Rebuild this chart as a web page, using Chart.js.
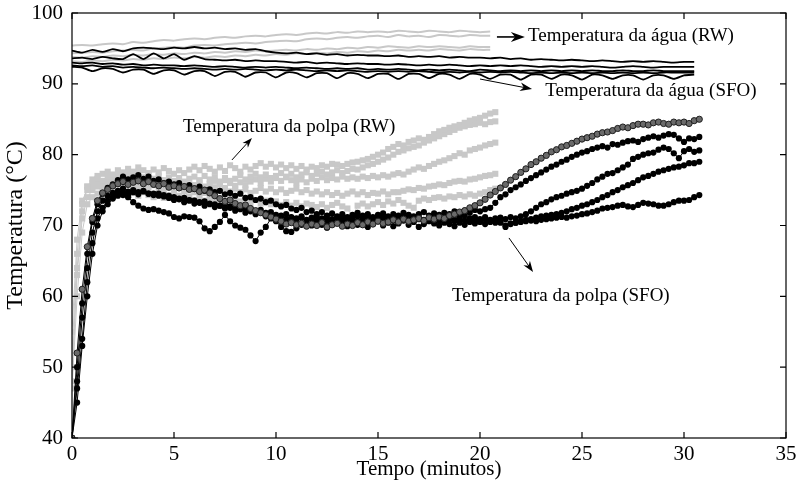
<!DOCTYPE html>
<html><head><meta charset="utf-8">
<script src="https://cdn.jsdelivr.net/npm/chart.js@4.4.1/dist/chart.umd.min.js"></script>
<style>html,body{margin:0;padding:0;background:#fff}#wrap{width:798px;height:488px}</style>
</head><body><div id="wrap"><canvas id="c" width="798" height="488"></canvas></div>
<script>
// ---- axis ticks ----
const xTickValues = [0, 5, 10, 15, 20, 25, 30, 35];
const yTickValues = [40, 50, 60, 70, 80, 90, 100];
const xTitle = 'Tempo (minutos)';
const yTitle = 'Temperatura (°C)';
const noteTexts = ['Temperatura da água (RW)', 'Temperatura da água (SFO)', 'Temperatura da polpa (RW)', 'Temperatura da polpa (SFO)'];

// sampling interval (minutes)
const STEP_PULP = 0.25;
const STEP_WATER = 0.5;

// ---- pulp temperature, SFO (black circles), t = 0 .. 30.75 ----
const pulpSFO1 = [40,52,61,67, 71,73.5,74.6,75.1, 75.6,75.9,76.2,75.8, 76.1,76.3,75.9,76.2, 75.8,75.6,75.9,75.4, 75.6,75.3,75.5,75.1, 75.2,74.8,75.0,74.6, 74.2,73.8,73.4,73.6, 73.1,72.8,72.9,72.4, 72.1,71.8,71.5,71.2, 70.9,70.6,70.2,70.4, 70.1,70.3,69.9,70.2, 70.0,70.4,69.8,70.1, 70.3,69.9,70.2,70.0, 70.4,70.1,70.5,70.2, 70.6,70.3,70.5,70.8, 70.5,70.9,70.6,70.8, 71.0,70.7,71.1,70.9, 71.2,71.0,71.4,71.6, 71.9,72.1,72.5,72.8, 73.2,73.7,74.3,74.8, 75.3,75.8,76.4,76.9, 77.5,78.0,78.6,79.0, 79.5,79.9,80.4,80.7, 81.1,81.3,81.6,81.9, 82.2,82.4,82.6,82.9, 83.1,83.2,83.4,83.7, 83.9,83.8,84.1,84.3, 84.3,84.2,84.5,84.6, 84.4,84.3,84.6,84.5, 84.6,84.4,84.8,85.0];
const pulpSFO2 = [40,50,59,66, 70.5,73,74.5,75.3, 75.8,76.4,76.9,76.5, 76.8,77.1,76.6,76.9, 76.3,76.5,76.0,76.2, 75.8,76.0,75.5,75.7, 75.2,75.5,74.9,75.1, 74.7,74.9,74.4,74.6, 74.2,74.5,73.9,74.0, 73.6,73.8,73.3,73.5, 73.0,72.7,72.9,72.4, 72.2,72.5,71.9,72.1, 71.6,71.9,71.4,71.7, 71.3,71.6,71.2,71.5, 71.8,71.4,71.6,71.2, 71.5,71.7,71.3,71.6, 71.4,71.8,71.5,71.3, 71.6,71.9,71.4,71.7, 71.5,71.8,71.6,72.0, 71.7,72.1,71.8,72.2, 72.0,72.3,72.5,73.2, 74.0,74.4,75.0,75.4, 75.8,76.3,76.7,77.1, 77.5,77.9,78.3,78.6, 79.0,79.3,79.7,80.0, 80.3,80.5,80.8,81.0, 81.2,81.0,81.5,81.4, 81.7,81.9,82.0,81.8, 82.2,82.4,82.6,82.4, 82.7,82.9,82.8,82.3, 81.8,82.3,82.2,82.5];
const pulpSFO3 = [40,48,57,64, 69,72,73.5,74.2, 74.6,74.9,75.2,74.8, 75.0,74.7,74.9,74.5, 74.5,74.2,74.3,73.9, 73.6,73.8,73.3,73.5, 73.1,73.3,72.8,73.0, 72.6,72.8,72.4,72.5, 72.1,72.3,71.8,72.0, 71.6,71.8,71.3,71.5, 71.1,71.4,70.9,71.2, 70.8,71.1,70.7,71.0, 71.2,70.8,71.0,70.6, 70.9,71.2,70.7,71.0, 71.3,70.9,71.1,70.7, 71.0,71.3,70.8,71.1, 70.9,71.2,71.4,71.0, 71.2,70.8,71.1,70.9, 71.3,71.0,71.2,70.8, 71.1,71.4,71.0,71.2, 70.9,71.2,70.8,71.0, 71.1,70.9,71.2,71.0, 71.3,71.6,72.0,72.5, 73.0,73.3,73.7,74.0, 74.2,74.5,74.7,74.9, 75.2,75.6,76.0,76.5, 76.9,77.3,77.4,77.8, 78.2,78.6,79.4,79.7, 80.0,80.2,80.3,80.7, 81.0,80.8,80.2,79.5, 80.5,80.8,80.4,80.6];
const pulpSFO4 = [40,47,54,62, 67.5,71,72.5,73.5, 74.0,74.5,74.3,74.0, 73.3,72.8,72.4,72.2, 72.3,72.1,71.9,71.7, 71.2,71.0,71.3,71.2, 71.1,70.6,69.6,69.2, 69.8,70.5,71.5,70.6, 70.0,69.7,69.4,68.6, 67.8,69.0,69.8,71.0, 70.6,69.8,69.2,69.1, 69.6,70.1,70.4,70.0, 70.5,70.1,69.7,70.3, 70.6,70.2,69.9,70.4, 70.1,70.5,69.8,70.3, 70.6,70.0,70.4,69.9, 70.3,70.7,70.1,70.5, 69.8,70.2,70.6,70.3, 70.0,70.5,70.2,69.9, 70.4,70.1,70.6,70.3, 70.5,70.2,70.6,70.4, 70.5,69.8,70.2,70.4, 70.6,70.8,70.9,71.1, 71.3,71.4,71.5,71.6, 71.8,72.0,72.3,72.5, 72.8,73.0,73.3,73.6, 74.0,74.3,74.7,75.0, 75.4,75.7,76.0,76.4, 76.8,77.0,77.3,77.6, 77.8,78.0,78.2,78.3, 78.5,78.8,78.8,79.0];
const pulpSFO5 = [40,45,53,60, 66,70,72,73, 73.8,74.2,74.6,74.3, 74.7,74.4,74.8,74.5, 74.3,74.5,74.1,74.2, 74.0,73.7,73.9,73.6, 73.5,73.2,73.4,73.1, 73.0,72.8,73.1,72.7, 72.5,72.7,72.3,72.4, 72.0,72.2,71.8,71.9, 71.5,71.3,71.6,71.1, 71.0,71.3,70.8,71.1, 70.7,71.0,70.6,70.9, 71.2,70.8,70.5,70.9, 70.6,71.0,70.7,70.4, 70.8,71.1,70.6,70.9, 70.5,70.8,71.0,70.6, 70.9,70.5,70.8,71.1, 70.7,70.4,70.8,70.6, 71.0,70.7,70.5,70.9, 70.6,70.9,70.5,70.7, 70.4,70.0,70.3,70.4, 70.5,70.6,70.7,70.6, 70.8,70.9,71.0,71.1, 71.2,71.1,71.3,71.4, 71.6,71.7,71.9,72.1, 72.4,72.5,72.6,72.8, 72.9,72.7,72.6,72.9, 73.2,73.1,73.0,72.8, 72.8,73.0,73.3,73.5, 73.5,73.6,74.0,74.3];

// ---- pulp temperature, RW (grey squares), t = 0 .. 20.75 ----
const pulpRW1 = [48,64,72,75.5, 76.5,77.0,77.3,77.6, 77.2,77.8,77.5,78.0, 77.6,78.2,77.8,77.4, 77.9,77.5,78.1,77.7, 77.3,77.8,77.4,77.9, 78.3,77.8,78.4,78.0, 77.6,78.2,77.7,78.5, 78.1,77.6,78.3,77.9, 78.4,78.8,78.3,78.7, 78.2,78.6,78.1,78.5, 78.0,78.4,77.9,78.3, 78.1,78.5,78.3,78.7, 78.6,78.4,78.7,78.9, 79.0,79.2,79.4,79.7, 80.0,80.3,80.8,81.1, 81.5,81.3,81.8,82.0, 82.3,82.1,82.5,82.9, 83.3,83.5,83.8,84.0, 84.2,84.5,84.8,85.0, 85.2,85.5,85.8,86.0];
const pulpRW2 = [52,66,73,75.5, 76.0,76.6,76.3,76.9, 76.5,77.1,76.7,77.3, 76.9,77.4,76.8,77.2, 76.6,77.0,76.4,76.8, 76.3,76.7,76.2,76.6, 76.9,76.4,77.0,76.5, 76.8,76.2,76.7,76.3, 76.6,77.1,76.5,76.9, 77.3,76.8,77.2,76.7, 77.0,77.4,76.9,77.3, 76.8,77.2,77.5,77.0, 77.3,77.6,77.2,77.5, 77.8,77.4,77.7,78.0, 77.9,78.2,78.5,78.7, 79.0,79.3,79.6,80.0, 80.4,80.6,80.9,81.1, 81.3,81.7,82.0,82.3, 82.6,82.9,83.2,83.5, 83.8,84.0,84.2,84.3, 84.5,84.3,84.6,84.7];
const pulpRW3 = [55,68,73.5,75, 75.5,76.0,75.7,76.2, 75.8,76.4,76.0,76.5, 76.1,75.7,76.3,75.9, 76.4,75.8,76.2,75.6, 75.9,75.4,75.8,75.3, 75.7,76.1,75.5,75.9, 76.3,75.8,76.4,76.0, 75.6,76.1,75.7,76.2, 76.5,76.0,76.6,76.2, 76.7,76.3,76.8,76.4, 76.0,76.5,76.1,76.6, 76.3,76.8,76.4,76.7, 76.5,76.9,76.6,76.8, 76.6,76.9,76.7,77.0, 76.8,77.1,76.9,77.2, 77.4,77.2,77.6,77.9, 78.2,78.0,78.4,78.7, 79.0,79.2,79.5,79.8, 80.2,80.0,80.6,80.8, 81.0,81.3,81.5,81.7];
const pulpRW4 = [50,63,71,74, 75.0,75.5,75.2,75.7, 75.3,75.8,75.4,75.9, 75.5,75.1,75.6,75.2, 75.7,75.3,75.0,75.4, 74.9,75.3,74.8,75.2, 74.7,75.1,74.6,75.0, 75.4,74.9,75.3,74.8, 75.2,74.7,75.1,74.6, 74.9,75.3,74.8,75.2, 74.7,75.1,74.6,74.9, 75.2,74.7,75.0,74.5, 74.8,74.4,74.7,74.3, 74.6,74.2,74.5,74.8, 74.4,74.7,74.3,74.6, 74.5,74.8,74.4,74.7, 74.7,74.9,75.1,75.0, 75.3,75.2,75.5,75.6, 75.8,75.7,76.0,76.2, 76.3,76.2,76.5,76.6, 76.8,77.0,77.1,77.3];
const pulpRW5 = [47,60,69,73, 74.0,74.5,74.2,74.8, 74.4,74.9,74.5,74.1, 74.6,74.2,74.7,74.3, 74.0,74.4,73.9,74.3, 73.8,74.2,73.7,74.1, 73.6,74.0,73.5,73.9, 73.4,73.8,73.3,73.7, 73.9,73.4,73.8,73.2, 73.6,73.1,73.5,73.0, 73.4,72.9,73.3,72.8, 73.2,72.7,73.1,72.9, 72.6,73.0,72.5,72.9, 73.2,72.7,72.4,71.2, 72.8,73.1,72.7,73.0, 73.3,72.9,73.4,73.1, 73.6,73.2,72.8,72.5, 73.5,73.8,73.6,73.9, 74.0,73.8,74.1,74.0, 74.3,74.1,74.4,74.2, 74.5,74.7,75.0,75.2];

// ---- water temperature, SFO (black lines), t = 0 .. 30.5 ----
const waterSFO1 = [94.7,94.4,94.8,94.5,94.9,94.6,95.0,95.1,95.0,94.9, 95.1,95.0,95.2,95.0,95.1,94.9,95.0,94.8,94.9,94.6, 94.4,94.3,94.4,94.2,94.3,94.1,94.2,94.0,94.1,94.0, 94.0,93.9,94.0,93.8,93.9,93.8,93.9,93.7,93.8,93.7, 93.7,93.6,93.7,93.5,93.6,93.4,93.5,93.4,93.3,93.4, 93.3,93.2,93.3,93.2,93.1,93.2,93.1,93.2,93.1,93.0, 93.1,93.1];
const waterSFO2 = [93.6,93.7,93.5,93.8,93.6,93.5,94.2,93.5,94.3,93.6, 94.2,93.4,93.9,93.5,93.4,93.3,93.4,93.2,93.3,93.2, 93.2,93.1,93.0,93.1,92.9,93.0,92.9,92.8,92.9,92.8, 92.8,92.7,92.8,92.7,92.6,92.7,92.6,92.7,92.6,92.5, 92.6,92.5,92.6,92.5,92.6,92.5,92.4,92.5,92.4,92.5, 92.4,92.5,92.4,92.3,92.4,92.5,92.4,92.3,92.4,92.4, 92.4,92.4];
const waterSFO3 = [93.0,92.9,93.0,92.8,92.9,92.7,92.8,92.6,92.7,92.6, 92.6,92.5,92.6,92.5,92.4,92.5,92.4,92.3,92.4,92.3, 92.4,92.3,92.2,92.3,92.2,92.1,92.2,92.1,92.2,92.0, 92.1,92.0,92.1,92.0,91.9,92.0,91.9,92.0,91.9,91.8, 92.0,91.9,91.8,91.9,91.8,91.9,91.8,91.9,91.8,91.9, 91.8,91.9,91.8,91.8,91.9,91.8,91.8,91.9,91.8,91.8, 91.8,91.8];
const waterSFO4 = [92.6,92.5,92.6,92.4,92.5,92.3,92.4,92.3,92.2,92.3, 92.2,92.1,92.2,92.1,92.0,92.1,92.0,92.1,92.0,91.9, 92.0,91.9,92.0,91.9,91.8,91.9,91.8,91.9,91.8,91.7, 91.8,91.7,91.8,91.7,91.8,91.7,91.6,91.7,91.6,91.7, 91.6,91.7,91.6,91.7,91.6,91.5,91.6,91.5,91.6,91.5, 91.6,91.5,91.6,91.5,91.6,91.5,91.6,91.5,91.6,91.6, 91.6,91.6];
const waterSFO5 = [92.4,92.3,91.8,92.2,92.1,91.6,92.0,92.0,91.4,91.9, 91.9,91.3,91.8,91.8,91.1,91.7,91.7,91.0,91.6,91.6, 90.9,91.6,91.5,90.9,91.5,91.5,90.8,91.5,91.4,90.8, 91.4,91.4,90.7,91.4,91.4,90.8,91.4,91.3,90.7,91.4, 91.3,90.7,91.3,91.3,90.6,91.3,91.3,90.7,91.3,91.2, 90.6,91.3,91.2,90.7,91.2,91.2,90.6,91.2,91.2,90.7, 91.2,91.3];

// ---- water temperature, RW (grey lines), t = 0 .. 20.5 ----
const waterRW1 = [95.4,95.5,95.4,95.6,95.7,95.6,95.9,95.8,96.0,96.2, 96.1,96.3,96.4,96.3,96.5,96.6,96.5,96.7,96.8,96.7, 96.9,97.0,96.9,97.1,97.2,97.1,97.3,97.2,97.4,97.3, 97.4,97.3,97.5,97.4,97.3,97.5,97.4,97.3,97.5,97.4, 97.3,97.4];
const waterRW2 = [94.3,94.4,94.5,94.4,94.6,94.7,94.8,94.7,95.0,95.1, 95.2,95.1,95.4,95.5,95.4,95.6,95.7,95.8,95.7,95.9, 96.0,96.1,96.0,96.3,96.4,96.3,96.5,96.6,96.5,96.7, 96.8,96.6,96.9,96.7,96.8,96.6,96.9,96.8,96.7,96.9, 96.8,96.8];
const waterRW3 = [93.8,93.7,93.9,93.8,94.0,93.9,94.1,94.0,94.2,94.1, 94.3,94.2,94.4,94.3,94.5,94.4,94.6,94.5,94.7,94.6, 94.7,94.8,94.7,94.9,94.8,95.0,94.9,95.1,95.0,95.2, 95.1,95.3,95.2,95.1,95.3,95.2,95.3,95.2,95.1,95.3, 95.2,95.2];
const waterRW4 = [93.2,93.1,93.3,93.2,93.4,93.3,93.5,93.4,93.6,93.5, 93.7,93.6,93.8,93.7,93.9,93.8,94.0,93.9,94.1,94.0, 94.2,94.1,94.3,94.2,94.4,94.3,94.5,94.4,94.6,94.5, 94.7,94.6,94.8,94.7,94.8,94.7,94.9,94.8,94.7,94.9, 94.8,94.8];

// ---- build ----
const FONT = 'Liberation Serif, "Times New Roman", serif';
const BLACK = '#000000', GREY = '#c8c8c8';
function xy(vals, step) { return vals.map((v, i) => ({ x: i * step, y: v })); }

const datasets = [];
[pulpSFO1, pulpSFO2, pulpSFO3, pulpSFO4, pulpSFO5].forEach((s, k) => datasets.push({
  data: xy(s, STEP_PULP), borderColor: BLACK, borderWidth: 1,
  pointStyle: 'circle', pointRadius: 3.1,
  pointBackgroundColor: k === 0 ? '#6a6a6a' : BLACK,
  pointBorderColor: k === 0 ? '#1e1e1e' : BLACK, pointBorderWidth: k === 0 ? 1 : 0
}));
[pulpRW1, pulpRW2, pulpRW3, pulpRW4, pulpRW5].forEach(s => datasets.push({
  data: xy(s, STEP_PULP), borderColor: GREY, borderWidth: 1,
  pointStyle: 'rect', pointRadius: 4.3, pointBackgroundColor: GREY, pointBorderColor: GREY, pointBorderWidth: 0
}));
[waterSFO1, waterSFO2, waterSFO3, waterSFO4, waterSFO5].forEach(s => datasets.push({
  data: xy(s, STEP_WATER), borderColor: BLACK, borderWidth: 1.8, pointRadius: 0, tension: 0.2
}));
[waterRW1, waterRW2, waterRW3, waterRW4].forEach(s => datasets.push({
  data: xy(s, STEP_WATER), borderColor: GREY, borderWidth: 2, pointRadius: 0, tension: 0.3
}));

const framePlugin = {
  id: 'frame',
  afterDraw(chart) {
    const { ctx, chartArea: a, scales: { x, y } } = chart;
    ctx.save();
    ctx.strokeStyle = '#000'; ctx.lineWidth = 1.2;
    ctx.strokeRect(a.left, a.top, a.right - a.left, a.bottom - a.top);
    const L = 6;
    ctx.beginPath();
    x.ticks.forEach(t => { const p = x.getPixelForValue(t.value);
      ctx.moveTo(p, a.bottom); ctx.lineTo(p, a.bottom - L); ctx.moveTo(p, a.top); ctx.lineTo(p, a.top + L); });
    y.ticks.forEach(t => { const p = y.getPixelForValue(t.value);
      ctx.moveTo(a.left, p); ctx.lineTo(a.left + L, p); ctx.moveTo(a.right, p); ctx.lineTo(a.right - L, p); });
    ctx.stroke();
    ctx.restore();
  }
};

// annotation placement in data coordinates: [textX, textYcenter, arrowFromX, arrowFromY, arrowToX, arrowToY, headLen, lineWidth]
const notePlugin = {
  id: 'notes',
  afterDatasetsDraw(chart) {
    const { ctx, scales: { x, y } } = chart;
    const place = [
      [22.35, 96.76, 20.83, 96.62, 22.2, 96.62, 14, 1.6],
      [23.2, 88.99, 20.0, 90.68, 22.55, 89.27, 12, 1],
      [5.44, 83.84, 7.84, 79.25, 8.82, 82.36, 10, 1],
      [18.63, 60.05, 21.42, 68.24, 22.6, 63.44, 11, 1]
    ];
    ctx.save();
    ctx.fillStyle = '#000'; ctx.strokeStyle = '#000';
    ctx.font = '19px ' + FONT; ctx.textBaseline = 'middle'; ctx.textAlign = 'left';
    place.forEach((p, i) => {
      ctx.fillText(noteTexts[i], x.getPixelForValue(p[0]), y.getPixelForValue(p[1]));
      const x0 = x.getPixelForValue(p[2]), y0 = y.getPixelForValue(p[3]);
      const x1 = x.getPixelForValue(p[4]), y1 = y.getPixelForValue(p[5]);
      const ang = Math.atan2(y1 - y0, x1 - x0), h = p[6];
      ctx.lineWidth = p[7];
      ctx.beginPath(); ctx.moveTo(x0, y0);
      ctx.lineTo(x1 - Math.cos(ang) * h * 0.6, y1 - Math.sin(ang) * h * 0.6); ctx.stroke();
      ctx.beginPath();
      ctx.moveTo(x1, y1);
      ctx.lineTo(x1 - h * Math.cos(ang) + (h * 0.36) * Math.sin(ang), y1 - h * Math.sin(ang) - (h * 0.36) * Math.cos(ang));
      ctx.lineTo(x1 - h * 0.7 * Math.cos(ang), y1 - h * 0.7 * Math.sin(ang));
      ctx.lineTo(x1 - h * Math.cos(ang) - (h * 0.36) * Math.sin(ang), y1 - h * Math.sin(ang) + (h * 0.36) * Math.cos(ang));
      ctx.closePath(); ctx.fill();
    });
    ctx.restore();
  }
};

new Chart(document.getElementById('c'), {
  type: 'line',
  data: { datasets },
  options: {
    responsive: false, animation: false, events: [],
    layout: { padding: { top: 13, right: 12, left: 0, bottom: 0 } },
    plugins: { legend: { display: false }, tooltip: { enabled: false } },
    scales: {
      x: {
        type: 'linear', min: 0, max: 35,
        afterBuildTicks: s => { s.ticks = xTickValues.map(v => ({ value: v })); },
        afterFit: s => { s.height = 50; s.paddingLeft = 0; s.paddingRight = 0; },
        grid: { display: false, drawTicks: false },
        border: { display: false },
        ticks: { color: '#000', font: { family: FONT, size: 21 }, padding: 4, maxRotation: 0 },
        title: { display: true, text: xTitle, color: '#000', font: { family: FONT, size: 21 }, padding: { top: 0, bottom: 6 } }
      },
      y: {
        min: 40, max: 100,
        afterBuildTicks: s => { s.ticks = yTickValues.map(v => ({ value: v })); },
        afterFit: s => { s.width = 72; s.paddingTop = 0; s.paddingBottom = 0; },
        grid: { display: false, drawTicks: false },
        border: { display: false },
        ticks: { color: '#000', font: { family: FONT, size: 21 }, padding: 9 },
        title: { display: true, text: yTitle, color: '#000', font: { family: FONT, size: 24 }, padding: { top: 1, bottom: 0 } }
      }
    }
  },
  plugins: [framePlugin, notePlugin]
});
</script>
</body></html>
